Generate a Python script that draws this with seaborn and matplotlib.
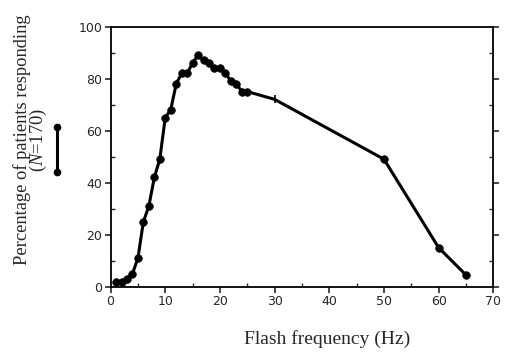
import matplotlib
matplotlib.use("Agg")
import matplotlib.pyplot as plt
import seaborn as sns
import pandas as pd
from matplotlib.lines import Line2D
from matplotlib.ticker import MultipleLocator

# flash frequency (Hz) and percentage of patients responding
freq = [1, 2, 3, 4, 5, 6, 7, 8, 9, 10, 11, 12, 13, 14, 15, 16, 17, 18,
        19, 20, 21, 22, 23, 24, 25, 30, 50, 60, 65]
pct = [2, 2, 3, 5, 11, 25, 31, 42, 49, 65, 68, 78, 82, 82, 86, 89, 87, 86,
       84, 84, 82, 79, 78, 75, 75, 72, 49, 15, 4.5]
# the 30 Hz point is drawn as a tick, not a dot
point_kind = ["dot"] * 25 + ["tick"] + ["dot"] * 3

df = pd.DataFrame({"freq": freq, "pct": pct, "kind": point_kind})

sns.set_style("ticks")
plt.rcParams["mathtext.fontset"] = "custom"
plt.rcParams["mathtext.rm"] = "Liberation Serif"
plt.rcParams["mathtext.it"] = "Liberation Serif:italic"

fig = plt.figure(figsize=(5.12, 3.52), dpi=100)
ax = fig.add_axes([0.216, 0.1855, 0.7475, 0.7392])

sns.lineplot(data=df, x="freq", y="pct", color="black", linewidth=2.2, ax=ax)
dots = df[df["kind"] == "dot"]
sns.scatterplot(data=dots, x="freq", y="pct", color="black", s=30,
                edgecolor="black", linewidth=0.5, ax=ax, zorder=3)
ticks = df[df["kind"] == "tick"]
sns.scatterplot(data=ticks, x="freq", y="pct", color="black", marker="|",
                s=30, linewidth=1.2, ax=ax, zorder=3)

ax.set_xlim(0, 70)
ax.set_ylim(0, 100)
ax.xaxis.set_major_locator(MultipleLocator(10))
ax.xaxis.set_minor_locator(MultipleLocator(5))
ax.yaxis.set_major_locator(MultipleLocator(20))
ax.yaxis.set_minor_locator(MultipleLocator(10))
ax.tick_params(which="major", direction="out", length=4, width=1.2,
               left=True, right=True, bottom=True, top=False,
               labelsize=9, pad=2)
ax.tick_params(which="minor", direction="in", length=3, width=1,
               left=True, right=True, bottom=True, top=False)
for lab in ax.get_xticklabels() + ax.get_yticklabels():
    lab.set_family("DejaVu Sans")
for sp in ax.spines.values():
    sp.set_linewidth(1.3)
    sp.set_color("black")

ax.set_xlabel("Flash frequency (Hz)", family="Liberation Serif", fontsize=14)
ax.set_ylabel("Percentage of patients responding\n($\\mathit{N}$=170)",
              family="Liberation Serif", fontsize=13.3, linespacing=0.75)
ax.xaxis.set_label_coords(0.565, -0.165)
ax.yaxis.set_label_coords(-0.162, 0.564)

# scale bar to the left of the axis
fig.add_artist(Line2D([0.1107, 0.1107], [0.640, 0.5105], color="black",
                      linewidth=2.2, marker="o", markersize=4.5))

fig.savefig("out.png", dpi=100)
